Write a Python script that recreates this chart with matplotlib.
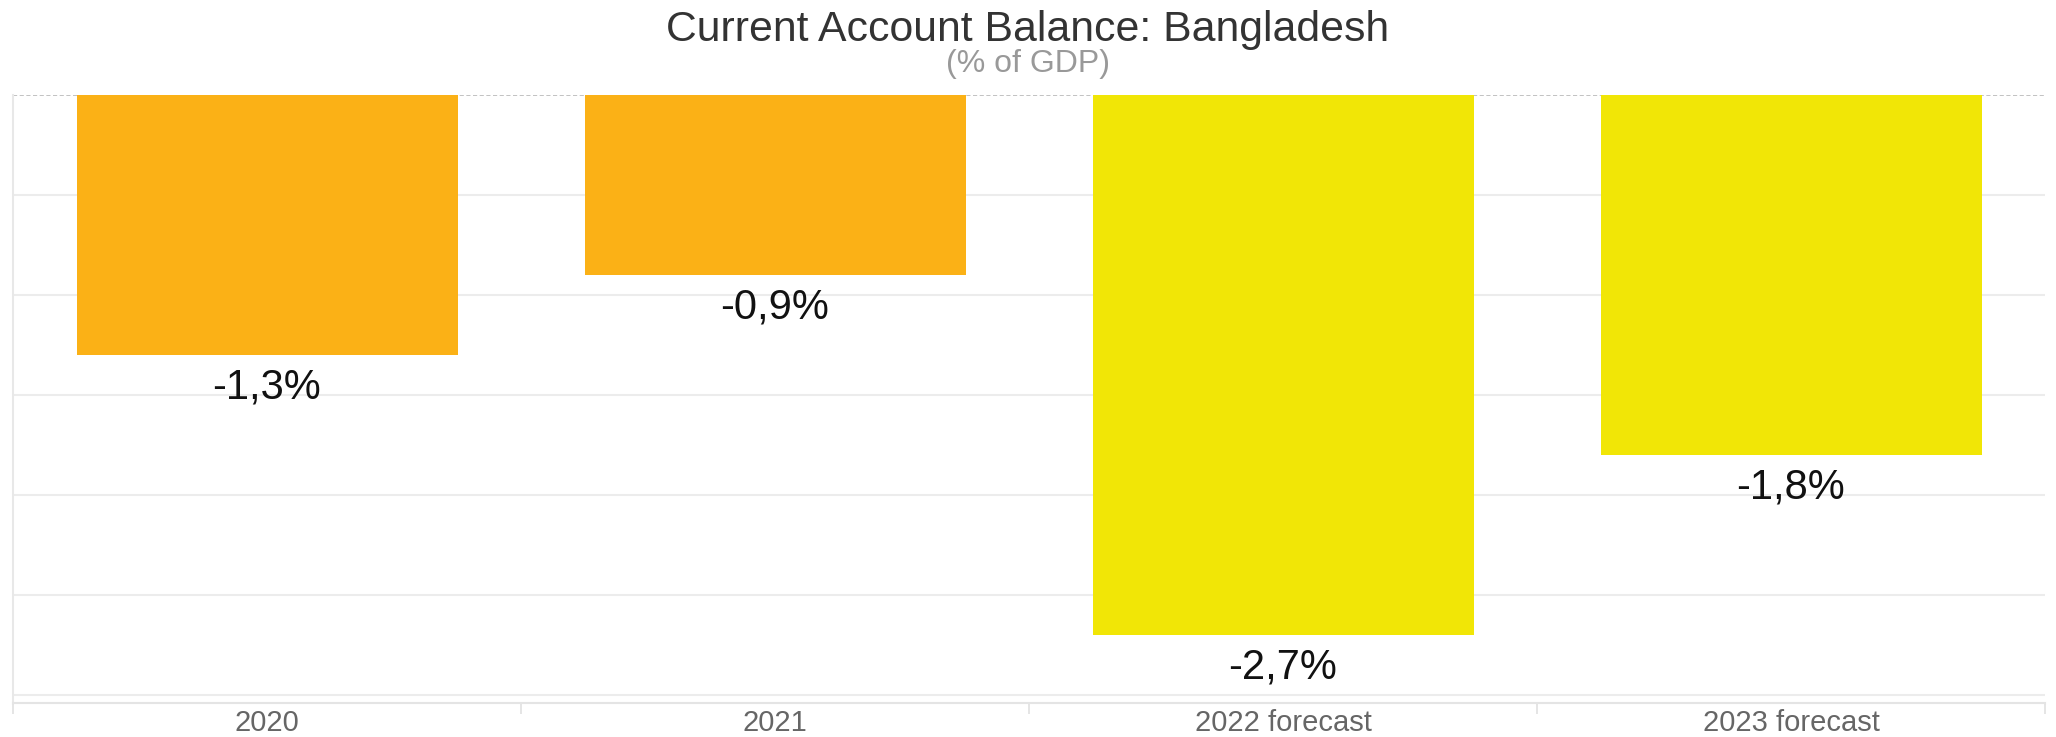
import numpy as np
from matplotlib import pyplot as plt

# chart data
years = ['2020', '2021', '2022 forecast', '2023 forecast']
balance = [-1.3, -0.9, -2.7, -1.8]
labels = ['-1,3%', '-0,9%', '-2,7%', '-1,8%']
colors = ['#FBB116', '#FBB116', '#F1E606', '#F1E606']

plt.rcParams['font.family'] = ['Liberation Sans', 'DejaVu Sans']

fig = plt.figure(figsize=(20.56, 7.37), dpi=100)
ax = fig.add_axes([13 / 2056, 1 - 703 / 737, 2032 / 2056, 608 / 737])

x = np.arange(len(years))
bars = ax.bar(x, balance, width=0.75, color=colors, zorder=2)

# value labels under each bar
for b, lab in zip(bars, labels):
	ax.annotate(lab, (b.get_x() + b.get_width() / 2, b.get_height()),
		xytext=(0, -23.5), textcoords='offset points',
		ha='center', va='center', fontsize=30, color='#111111')

ax.set_xlim(-0.5, len(years) - 0.5)
ax.set_ylim(-3.04, 0)

# grid lines
for y in np.arange(-0.5, -3.01, -0.5):
	ax.axhline(y, color='#ececec', lw=1.5, zorder=1)
ax.axhline(0, color='#b8b8b8', lw=1.2, ls=(0, (2.5, 1.5)), zorder=1)

ax.set_xticks(x)
ax.set_xticklabels(years, fontsize=21, color='#666666')
ax.set_xticks(np.arange(-0.5, len(years)), minor=True)
ax.tick_params(axis='x', which='major', length=0, pad=4)
ax.tick_params(axis='x', which='minor', length=8, color='#e0e0e0', width=1.2)
ax.set_yticks([])

for side in ['top', 'right']:
	ax.spines[side].set_visible(False)
ax.spines['left'].set_color('#e8e8e8')
ax.spines['left'].set_linewidth(1.5)
ax.spines['bottom'].set_color('#e4e4e4')
ax.spines['bottom'].set_linewidth(1.5)

fig.text(0.5, 1 - 30 / 737, 'Current Account Balance: Bangladesh',
	ha='center', va='center', fontsize=30.8, color='#333333')
fig.text(0.5, 1 - 64 / 737, '(% of GDP)',
	ha='center', va='center', fontsize=23, color='#999999')

fig.savefig('out.png', dpi=100)
